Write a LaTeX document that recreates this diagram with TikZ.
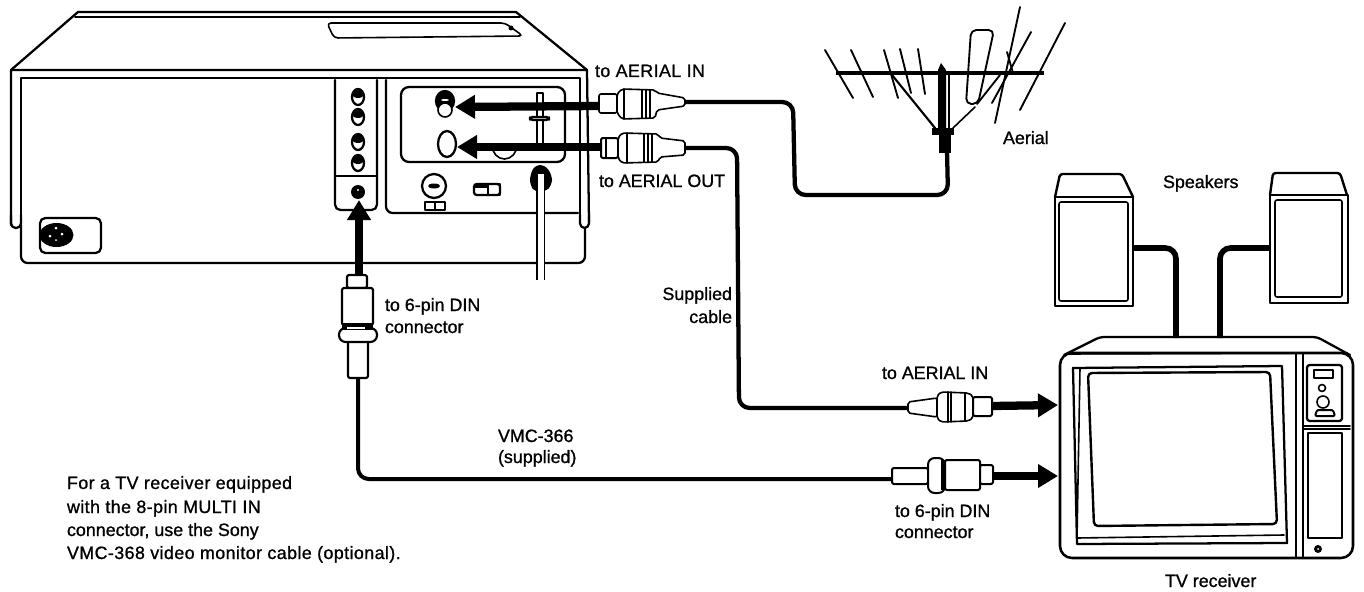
\documentclass[tikz,border=0pt]{standalone}
\usepackage{fontspec}
\usetikzlibrary{arrows.meta}
\newfontfamily\lab[FakeBold=1]{Liberation Sans}
\newfontfamily\labw[FakeBold=1,LetterSpace=2.3]{Liberation Sans}
\tikzset{
  x=0.75pt,y=-0.75pt,
  heavy/.style={line width=1.7pt,line join=round,line cap=round},
  med/.style={line width=1.2pt,line join=round,line cap=round},
  fine/.style={line width=0.8pt,line join=round,line cap=round},
  cable/.style={line width=3.2pt,rounded corners=8pt,line join=round},
  spkcable/.style={line width=4.2pt,rounded corners=8pt},
  fat/.style={line width=6.2pt,-{Triangle[length=15pt,width=17pt]},shorten <=0pt},
  lbl/.style={font=\lab\fontsize{13.4}{16}\selectfont,anchor=base west,inner sep=0pt,outer sep=0pt},
  lblw/.style={font=\labw\fontsize{13.4}{16}\selectfont,anchor=base west,inner sep=0pt,outer sep=0pt},
  plug/.style={med,fill=white,rounded corners=1.5pt}
}
\begin{document}
\begin{tikzpicture}
\useasboundingbox[fill=white] (0,0) rectangle (1364,592);

% ---------- VCR
\draw[heavy] (11,70) -- (78,12) -- (516,12) -- (587,70);
\draw[med] (75,17) -- (520,17);
\draw[heavy] (11,225) -- (11,70) -- (587,70) -- (589,222);
\draw[heavy] (21,222) -- (21,78) -- (580,78) -- (580,222);
\draw[heavy,rounded corners=3.5pt] (11,215) -- (11,228) -- (21,228) -- (21,215);
\draw[heavy,rounded corners=3.5pt] (580,215) -- (580,228) -- (589,228) -- (589,215);
\draw[heavy,rounded corners=5pt] (21,225) -- (21,263) -- (585,263) -- (585,228);
\draw[med,rounded corners=3pt] (327,23) -- (505,23) -- (523,36) -- (334,38) -- cycle;
\fill (511,28) circle (2.5);
% jack strip
\draw[heavy,rounded corners=4pt] (335,80) -- (335,210) -- (377,210) -- (377,80);
\draw[heavy] (335,176) -- (377,176);
\foreach \yy in {97,117,142,163}{
  \draw[heavy,fill=white] (358,\yy) circle [x radius=6,y radius=8];
  \fill (358,\yy-3) ellipse [x radius=6,y radius=4];
}
\fill (358,192) circle (7);
\fill[white] (358,190) circle (1.2);
% terminal panel
\draw[heavy,rounded corners=5pt] (386,80) -- (386,213) -- (578,213);
\draw[heavy,rounded corners=6pt] (401,87) rectangle (565,162);
\draw[heavy,fill=black] (445,101) circle [x radius=9,y radius=10];
\draw[med,fill=white] (445,110) circle [x radius=7,y radius=7];
\fill[white] (445,100) ellipse [x radius=4,y radius=1];
\draw[heavy,fill=white] (447,144) circle [x radius=9,y radius=13];
\draw[med] (492,145) arc (180:360:12.5 and -14);
\draw[med,fill=white] (537,93) rectangle (543,145);
\draw[heavy,fill=white,rounded corners=2pt] (530,117) rectangle (549,120);
% dial and switch
\draw[heavy] (434,186) circle (12);
\fill (434,186) ellipse [x radius=6,y radius=2.5];
\draw[med] (425,202) rectangle (435,210);
\draw[med] (435,202) rectangle (445,210);
\draw[heavy,fill=white,rounded corners=2pt] (474,184) rectangle (500,195);
\fill (474,184) rectangle (488,188);
\draw[med] (488,184) rectangle (500,195);
% aerial lead
\fill[rounded corners=4pt] (530,175) -- (535,165) -- (545,165) -- (552,175) -- (552,185) -- (545,192) -- (535,192) -- (530,185) -- cycle;
\coordinate (leadtop) at (540.5,174);
\coordinate (leadend) at (540.5,280);
\draw[line width=1pt,double=white,double distance=4.5pt] (leadtop) -- (leadend);
% power socket
\draw[heavy,rounded corners=4pt] (40,218) rectangle (101,253);
\fill (56.5,235) ellipse [x radius=17,y radius=12];
\fill[white] (56,228) circle (1.5) (50,236) circle (1.5) (62,234) circle (1.5) (56,240) circle (1);

% ---------- named end points
\coordinate (jackIn) at (455,107);
\coordinate (jackOut) at (457,147);
\coordinate (din) at (359,200);
\coordinate (plugInFace) at (599,106);
\coordinate (plugOutFace) at (601,147);
\coordinate (plugDinFace) at (359,278);
\coordinate (plugInTail) at (685,102);
\coordinate (plugOutTail) at (685,148);
\coordinate (plugDinTail) at (358,378);
\coordinate (tvAerial) at (1058,405);
\coordinate (tvDin) at (1058,476);
\coordinate (tvPlugATail) at (908,408);
\coordinate (tvPlugAFace) at (992,406);
\coordinate (tvPlugBTail) at (892,479);
\coordinate (tvPlugBFace) at (993,476);
\coordinate (mastFoot) at (947,150);
\coordinate (spkLOut) at (1133,248);
\coordinate (spkROut) at (1270,248);
\coordinate (tvTopL) at (1176,338);
\coordinate (tvTopR) at (1220,338);

% ---------- arrows
\draw[fat] (plugInFace) -- (jackIn);
\draw[fat] (plugOutFace) -- (jackOut);
\draw[fat] (plugDinFace) -- (din);
\draw[fat] (tvPlugAFace) -- (tvAerial);
\draw[fat] (tvPlugBFace) -- (tvDin);

% ---------- cables
\draw[cable] (plugInTail) -- (793,102) -- (795,195) -- (948,195) -- (mastFoot);
\draw[cable] (plugOutTail) -- (737,148) -- (739,408) -- (tvPlugATail);
\draw[cable,line width=3pt] (plugDinTail) -- (358,479) -- (tvPlugBTail);

% ---------- plugs at the VCR
\draw[plug] (599,94) rectangle (617,113);
\draw[plug] (617,94) -- (622,89) -- (655,90) -- (657,93) -- (685,98) -- (685,106) -- (657,110) -- (655,118) -- (622,119) -- (617,113) -- cycle;
\draw[med] (624,89) -- (624,119) (642,90) -- (642,118) (646,90) -- (646,118) (650,90) -- (650,118);
\draw[heavy,plug,line width=1.5pt] (601,138) rectangle (618,158);
\draw[med] (606,138) -- (606,158);
\draw[plug] (618,138) -- (622,133) -- (658,134) -- (660,138) -- (685,141) -- (685,155) -- (660,157) -- (658,162) -- (622,163) -- (618,158) -- cycle;
\draw[med] (627,133) -- (627,163) (644,134) -- (644,162) (648,134) -- (648,162) (652,134) -- (652,162);

% ---------- plug under the VCR
\draw[plug,line width=1.6pt] (347,275) rectangle (367,288);
\draw[plug,line width=1.6pt] (342,288) rectangle (373,325);
\draw[plug,line width=1.6pt] (348,340) rectangle (368,378);
\draw[plug,line width=1.6pt,rounded corners=5pt] (339,328) rectangle (377,342);
\fill (342,323) rectangle (373,330);
\fill[white] (347,327) rectangle (365,329);

% ---------- TV plugs
\draw[plug] (908,402) -- (937,398) -- (937,417) -- (908,413) -- cycle;
\draw[plug] (937,396) -- (941,392) -- (968,393) -- (973,396) -- (973,418) -- (968,421) -- (941,422) -- (937,418) -- cycle;
\draw[med] (948,392) -- (948,422) (951,392) -- (951,422) (965,393) -- (965,421);
\draw[plug,line width=1.5pt] (973,397) rectangle (992,416);
\draw[plug,line width=1.5pt] (892,468) rectangle (928,484);
\draw[plug,line width=1.5pt,rounded corners=5pt] (928,458) rectangle (945,493);
\draw[plug,line width=1.5pt] (945,460) rectangle (980,490);
\fill (941,460) rectangle (945,490);
\draw[plug,line width=1.5pt] (980,465) rectangle (993,484);

% ---------- aerial
\draw[line width=3pt] (836,73) -- (1044,73);
\foreach \a/\b/\c/\d in {825/50/853/98,851/50/873/97,884/50/898/98,900/49/911/93,918/49/925/94,1020/7/995/123,1031/32/992/103,1065/23/1020/110}
  \draw[med,line width=1.4pt] (\a,\b) -- (\c,\d);
\draw[med,line width=1.4pt,rounded corners=4pt] (966,104) -- (971,30) -- (994,30) -- (978,104) -- cycle;
\draw[med,line width=1.4pt] (1007,52) -- (1013,73);
\draw[med,line width=1.6pt] (892,75) -- (935,128);
\draw[med,line width=1.2pt] (975,107) -- (953,128);
\draw[med,line width=1.4pt] (977,104) -- (1000,75);
\fill (938,70) -- (941,63) -- (946,70) -- (946,128) -- (938,128) -- cycle;
\draw[fine] (949,74) -- (949,128);
\fill (932,128) rectangle (954,135);
\fill (939,135) rectangle (951,153);

% ---------- speakers
\draw[heavy,line width=1.8pt,rounded corners=2pt] (1055,197) -- (1060,174) -- (1122,174) -- (1133,197);
\draw[heavy] (1055,197) -- (1133,197);
\draw[heavy,line width=2pt] (1055,197) rectangle (1133,306);
\draw[med,rounded corners=1.5pt] (1059,202) rectangle (1128,301);
\draw[heavy,line width=1.8pt,rounded corners=2pt] (1270,195) -- (1273,173) -- (1340,173) -- (1347,195);
\draw[heavy,line width=2pt] (1270,195) rectangle (1348,303);
\draw[med,rounded corners=1.5pt] (1275,200) rectangle (1342,297);
\draw[spkcable] (spkLOut) -- (1176,248) -- (tvTopL);
\draw[spkcable] (spkROut) -- (1220,248) -- (tvTopR);

% ---------- TV
\draw[heavy,rounded corners=3pt] (1064,355) -- (1100,337) -- (1317,337) -- (1350,355);
\draw[heavy,line width=1.9pt,rounded corners=9pt] (1060,353) rectangle (1353,558);
\draw[med] (1066,354) -- (1347,353);
\draw[heavy] (1073,368) -- (1282,366) -- (1287,543) -- (1077,544) -- cycle;
\draw[med] (1080,368) -- (1077,538) -- (1284,535);
\draw[heavy,line width=1.8pt,rounded corners=3pt] (1088,373) -- (1270,372) -- (1277,524) -- (1094,526) -- cycle;
\draw[med] (1296,354) -- (1296,558);
\draw[med] (1303,354) -- (1303,558);
\draw[heavy,rounded corners=2pt] (1307,365) rectangle (1342,421);
\draw[med] (1314,370) rectangle (1333,378);
\draw[med] (1322,388) circle (3.5);
\draw[med] (1323,402) circle (6);
\draw[heavy,line width=1.5pt,fill=white,rounded corners=1pt] (1315,416) -- (1335,416) -- (1333,410) -- (1317,410) -- cycle;
\draw[med] (1303,426) -- (1350,426);
\draw[med] (1303,429) -- (1350,429);
\draw[med] (1308,433) rectangle (1342,538);
\fill (1318,549) circle (4);
\fill[white] (1318,549) circle (1);

% ---------- labels
\node[lblw] (l1) at (595,77) {to AERIAL IN};
\node[lbl] (l2) at (599,187) {to AERIAL OUT};
\node[lbl] (l3) at (1003,144) {Aerial};
\node[lbl] (l4) at (1163,188) {Speakers};
\node[lbl,anchor=base east] (l5) at (732,300) {Supplied};
\node[lbl,anchor=base east] (l6) at (732,323) {cable};
\node[lbl] (l7) at (385,311) {to 6-pin DIN};
\node[lbl] (l8) at (385,333) {connector};
\node[lbl] (l9) at (882,379) {to AERIAL IN};
\node[lbl] (l10) at (498,442) {VMC-366};
\node[lbl] (l11) at (498,463) {(supplied)};
\node[lbl] (l12) at (895,517) {to 6-pin DIN};
\node[lbl] (l13) at (895,538) {connector};
\node[lbl] (l14) at (1165,587) {TV receiver};
\node[lblw] (l15) at (67,489) {For a TV receiver equipped};
\node[lblw] (l16) at (67,513) {with the 8-pin MULTI IN};
\node[lbl] (l17) at (67,536) {connector, use the Sony};
\node[lblw] (l18) at (67,559) {VMC-368 video monitor cable (optional).};
\end{tikzpicture}
\end{document}
